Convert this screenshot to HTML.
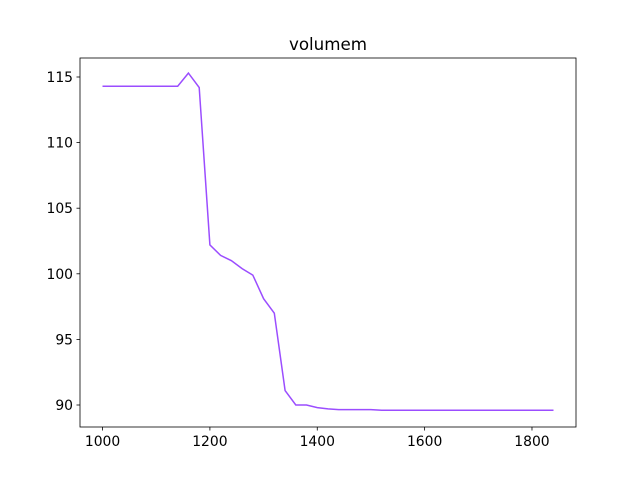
<!DOCTYPE html>
<html><head><meta charset="utf-8"><style>
body{margin:0;background:#fff}
svg text{font-family:"DejaVu Sans","Liberation Sans",sans-serif;font-size:13.9px;fill:#000}
</style></head><body>
<svg id="chart" width="640" height="480">
<rect x="0" y="0" width="640" height="480" fill="#fff"/>
<text x="328" y="50" text-anchor="middle" style="font-size:16.7px">volumem</text>
<g id="ticks"></g>
<polyline id="line" fill="none" stroke="#9b4dff" stroke-width="1.5"/>
<rect x="80" y="58" width="496" height="369" fill="none" stroke="#000" stroke-width="0.8"/>
</svg>
<script>
const xs = [1000,1020,1040,1060,1080,1100,1120,1140,1160,1180,1200,1220,1240,1260,1280,1300,1320,1340,1360,1380,1400,1420,1440,1460,1480,1500,1520,1540,1560,1580,1600,1620,1640,1660,1680,1700,1720,1740,1760,1780,1800,1820,1840];
const ys = [114.3,114.3,114.3,114.3,114.3,114.3,114.3,114.3,115.3,114.2,102.2,101.4,101.0,100.4,99.9,98.1,97.0,91.1,90.0,90.0,89.8,89.7,89.65,89.65,89.65,89.65,89.6,89.6,89.6,89.6,89.6,89.6,89.6,89.6,89.6,89.6,89.6,89.6,89.6,89.6,89.6,89.6,89.6];
const xTicks = [1000,1200,1400,1600,1800];
const yTicks = [90,95,100,105,110,115];
const X = v => 80 + (v - 958) * 496 / 924;
const Y = v => 405 - (v - 90) * 13.12;
const line = document.getElementById('line');
line.setAttribute('points', xs.map((x,i)=>X(x).toFixed(1)+','+Y(ys[i]).toFixed(1)).join(' '));
const g = document.getElementById('ticks');
const ns = 'http://www.w3.org/2000/svg';
xTicks.forEach(t=>{
  const l=document.createElementNS(ns,'line');
  l.setAttribute('x1',X(t));l.setAttribute('x2',X(t));l.setAttribute('y1',427);l.setAttribute('y2',430.5);
  l.setAttribute('stroke','#000');l.setAttribute('stroke-width','0.8');
  
  
  g.appendChild(l);
  const tx=document.createElementNS(ns,'text');
  tx.setAttribute('x',X(t));tx.setAttribute('y',446);tx.setAttribute('text-anchor','middle');
  tx.textContent=t;
  
  
  g.appendChild(tx);
});
yTicks.forEach(t=>{
  const l=document.createElementNS(ns,'line');
  l.setAttribute('x1',76.5);l.setAttribute('x2',80);l.setAttribute('y1',Y(t));l.setAttribute('y2',Y(t));
  l.setAttribute('stroke','#000');l.setAttribute('stroke-width','0.8');
  
  
  g.appendChild(l);
  const tx=document.createElementNS(ns,'text');
  tx.setAttribute('x',73);tx.setAttribute('y',Y(t)+5);tx.setAttribute('text-anchor','end');
  tx.textContent=t;
  
  
  g.appendChild(tx);
});
</script>
</body></html>
